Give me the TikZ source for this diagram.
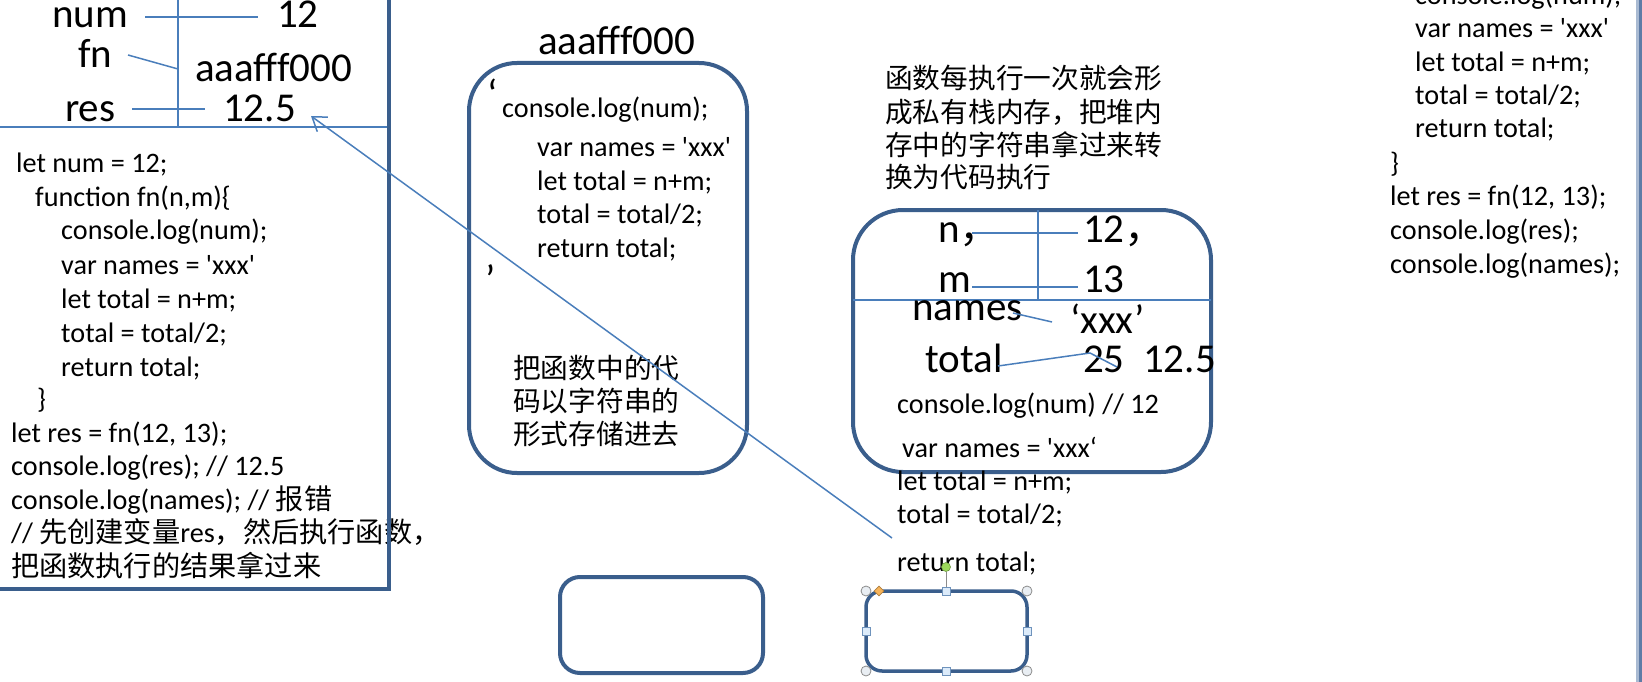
\documentclass[tikz,border=0pt]{standalone}
\usepackage{fontspec}
\setmainfont{Carlito}[Ligatures=TeXOff]
\newfontfamily\cjk{Noto Sans CJK SC}
\usetikzlibrary{arrows.meta,shapes.geometric}
\definecolor{boxblue}{HTML}{3A5E8C}
\definecolor{linkblue}{HTML}{4A7EBB}
\definecolor{handlegray}{HTML}{8C8C8C}
\definecolor{handlefill}{HTML}{E9EEF3}
\definecolor{sqfill}{HTML}{DCEBFA}
\definecolor{sqdraw}{HTML}{6F93BC}
\definecolor{rotgreen}{HTML}{9BD75A}
\definecolor{adjorange}{HTML}{F7B45A}
\definecolor{edgelight}{HTML}{A9BAD2}
\definecolor{edgedark}{HTML}{5E7CA6}
\begin{document}
\begin{tikzpicture}[x=1pt,y=-1pt,
  big/.style={anchor=base west,inner sep=0pt,font=\fontsize{41}{48}\selectfont},
  code/.style={anchor=base west,inner sep=0pt,font=\fontsize{28.2}{33}\selectfont},
  zh/.style={anchor=base west,inner sep=0pt,font=\cjk\fontsize{27.7}{33}\selectfont},
  heavybox/.style={draw=boxblue,line width=4pt},
  link/.style={draw=linkblue,line width=1.5pt},
  cornerhandle/.style={circle,draw=handlegray,fill=handlefill,line width=0.8pt,minimum size=10pt,inner sep=0pt},
  sidehandle/.style={rectangle,draw=sqdraw,fill=sqfill,line width=0.8pt,minimum size=8pt,inner sep=0pt},
]
\useasboundingbox (0,0) rectangle (1642,682);

% ---------------- left memory box ----------------
\node[big] (numL) at (52,28) {num};
\node[big] (fnL) at (78,68) {fn};
\node[big] (resL) at (65,122) {res};
\node[big] (v12) at (277,28) {12};
\node[big] (vaddr) at (195,82) {aaafff000};
\node[big] (v125) at (223,122) {12.5};

\node[code] (l1) at (16,172) {let num = 12;};
\node[code] (l2) at (35,206) {function fn(n,m)\{};
\node[code] (l3) at (61,240) {console.log(num);};
\node[code] (l4) at (61,274) {var names = 'xxx'};
\node[code] (l5) at (61,308) {let total = n+m;};
\node[code] (l6) at (61,342) {total = total/2;};
\node[code] (l7) at (61,376) {return total;};
\node[code] (l8) at (37,408) {\}};
\node[code] (l9) at (11,442) {let res = fn(12, 13);};
\node[code] (l10) at (11,475) {console.log(res); // 12.5};
\node[code] (l11) at (11,509) {console.log(names); // {\cjk 报错}};
\node[code] (l12) at (11,542) {// {\cjk 先创建变量}res{\cjk ，然后执行函数，}};
\node[code] (l13) at (11,576) {{\cjk 把函数执行的结果拿过来}};

\coordinate (numA) at (145,17);  \coordinate (numB) at (258,17);
\coordinate (fnA) at (128,55);   \coordinate (fnB) at (178,69);
\coordinate (resA) at (132,109); \coordinate (resB) at (205,109);
\coordinate (vtop) at (178,0);   \coordinate (vbot) at (178,127);
\coordinate (hl) at (0,127);     \coordinate (hr) at (389,127);
\draw[link] (numA) -- (numB);
\draw[link] (fnA) -- (fnB);
\draw[link] (resA) -- (resB);
\draw[link] (vtop) -- (vbot);
\draw[link] (hl) -- (hr);
\coordinate (lbTop) at (389,-5);
\coordinate (lbCorner) at (389,589);
\coordinate (lbLeft) at (-5,589);
\draw[heavybox] (lbTop) -- (lbCorner) -- (lbLeft);

% ---------------- heap box ----------------
\node[big] (heapaddr) at (538,55) {aaafff000};
\draw[heavybox,rounded corners=48pt] (469,63) rectangle (747,473);
\node[big] (q1) at (487,109) {‘};
\node[code] (h1) at (502,118) {console.log(num);};
\node[code] (h2) at (537,157) {var names = 'xxx'};
\node[code] (h3) at (537,190) {let total = n+m;};
\node[code] (h4) at (537,223) {total = total/2;};
\node[code] (h5) at (537,257) {return total;};
\node[big] (q2) at (485,293) {’};
\node[zh] (hz1) at (513,378) {把函数中的代};
\node[zh] (hz2) at (513,411) {码以字符串的};
\node[zh] (hz3) at (513,444) {形式存储进去};

% ---------------- stack box of the call ----------------
\node[zh] (sz1) at (885,89) {函数每执行一次就会形};
\node[zh] (sz2) at (885,123) {成私有栈内存，把堆内};
\node[zh] (sz3) at (885,156) {存中的字符串拿过来转};
\node[zh] (sz4) at (885,188) {换为代码执行};

\draw[heavybox,rounded corners=50pt] (853,210) rectangle (1211,472);
\coordinate (shl) at (853,300); \coordinate (shr) at (1211,300);
\coordinate (svt) at (1038,210); \coordinate (svb) at (1038,300);
\draw[link] (shl) -- (shr);
\draw[link] (svt) -- (svb);

\node[big] (nL) at (938,242) {n{\cjk ，}};
\node[big] (n12) at (1083,242) {12{\cjk ，}};
\node[big] (mL) at (938,292) {m};
\node[big] (m13) at (1083,292) {13};
\node[big] (namesL) at (912,320) {names};
\node[big] (xxxV) at (1070,333) {‘xxx’};
\node[big] (totalL) at (925,372) {total};
\node[big] (t25) at (1083,372) {25};
\node[big] (t125) at (1143,372) {12.5};

\coordinate (nA) at (972,233); \coordinate (nB) at (1078,233);
\coordinate (mA) at (972,287); \coordinate (mB) at (1078,287);
\coordinate (naA) at (1013,313); \coordinate (naB) at (1052,322);
\coordinate (tA) at (998,366); \coordinate (tM) at (1090,353); \coordinate (tB) at (1117,367);
\draw[link] (nA) -- (nB);
\draw[link] (mA) -- (mB);
\draw[link] (naA) -- (naB);
\draw[link] (tA) -- (tM) -- (tB);

\node[code] (s1) at (897,413) {console.log(num) // 12};
\node[code] (s2) at (902,457) {var names = 'xxx‘};
\node[code] (s3) at (897,490) {let total = n+m;};
\node[code] (s4) at (897,523) {total = total/2;};
\node[code] (s5) at (897,571) {return total;};

% ---------------- arrow back to res ----------------
\coordinate (arrStart) at (892,538);
\coordinate (arrEnd) at (311,116);
\draw[link,-{Straight Barb[length=13pt,width=18pt,line width=1.5pt]}] (arrStart) -- (arrEnd);

% ---------------- bottom boxes ----------------
\draw[heavybox,rounded corners=20pt] (560,577) rectangle (763,673);
\draw[draw=boxblue,line width=3.5pt,rounded corners=16pt] (866,591) rectangle (1027,671);
\node[circle,fill=rotgreen,draw=rotgreen!70!black,line width=0.6pt,minimum size=9pt,inner sep=0pt] (rot) at (946,567) {};
\node[sidehandle] (hT) at (946,591) {};
\draw[draw=handlegray,line width=1pt] (rot) -- (hT);
\node[sidehandle] (hB) at (946,671) {};
\node[sidehandle] (hL) at (866,631) {};
\node[sidehandle] (hR) at (1027,631) {};
\node[cornerhandle] (c1) at (866,591) {};
\node[cornerhandle] (c2) at (1027,591) {};
\node[cornerhandle] (c3) at (866,671) {};
\node[cornerhandle] (c4) at (1027,671) {};
\node[diamond,fill=adjorange,draw=adjorange!70!black,line width=0.6pt,minimum width=10pt,minimum height=10pt,inner sep=0pt,shape aspect=1] (adj) at (879,591) {};

% ---------------- right code column ----------------
\node[code] (r1) at (1415,4.5) {console.log(num);};
\node[code] (r2) at (1415,38) {var names = 'xxx'};
\node[code] (r3) at (1415,72) {let total = n+m;};
\node[code] (r4) at (1415,105) {total = total/2;};
\node[code] (r5) at (1415,138) {return total;};
\node[code] (r6) at (1390,172) {\}};
\node[code] (r7) at (1390,205) {let res = fn(12, 13);};
\node[code] (r8) at (1390,240) {console.log(res);};
\node[code] (r9) at (1390,273) {console.log(names);};

% window edge at the right
\fill[edgelight] (1636,0) rectangle (1639,682);
\fill[edgedark] (1639,0) rectangle (1642,682);
\end{tikzpicture}
\end{document}
